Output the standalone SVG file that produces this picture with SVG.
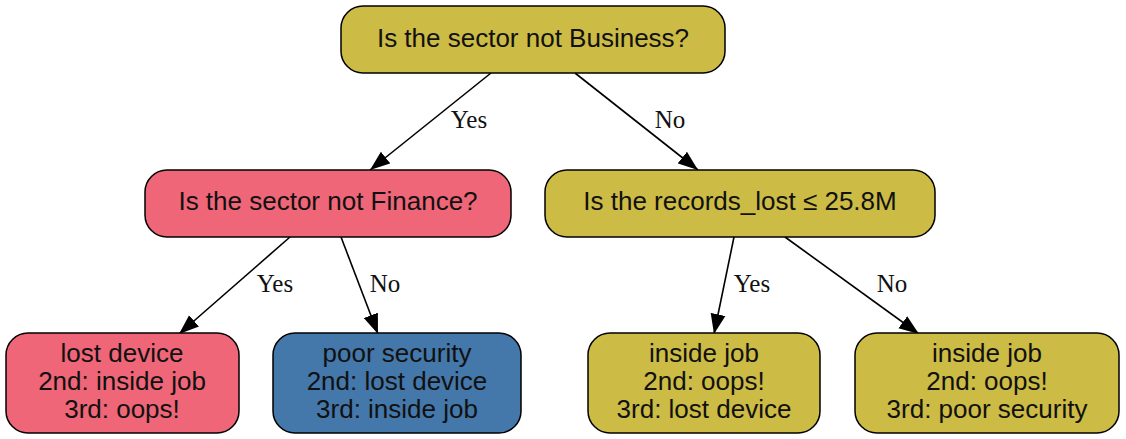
<svg xmlns="http://www.w3.org/2000/svg" width="1126" height="439" viewBox="0 0 1126 439">
<style>
.n{stroke:#000;stroke-width:1.5}
.y{fill:#ccbb44}.r{fill:#ee6677}.b{fill:#4477aa}
.t{font-family:"Liberation Sans",Arial,sans-serif;font-size:26px;fill:#111;text-anchor:middle}
.e{stroke:#000;stroke-width:1.6;fill:none;marker-end:url(#ah)}
.l{font-family:"Liberation Serif","Times New Roman",serif;font-size:25px;fill:#111;text-anchor:middle}
</style>
<defs>
<marker id="ah" markerUnits="userSpaceOnUse" markerWidth="21" markerHeight="16" refX="20" refY="8" orient="auto">
<path d="M0,0.5 L20,8 L0,15.5 Z" fill="#000"/>
</marker>
</defs>
<g id="connectors">
<line class="e" x1="491" y1="73" x2="370" y2="170"/>
<line class="e" x1="575" y1="73" x2="698" y2="170"/>
<line class="e" x1="290" y1="237" x2="179" y2="334"/>
<line class="e" x1="341" y1="237" x2="378" y2="334"/>
<line class="e" x1="734" y1="237" x2="714" y2="334"/>
<line class="e" x1="785" y1="237" x2="919" y2="334"/>
<text class="l" x="469" y="128">Yes</text>
<text class="l" x="670" y="128">No</text>
<text class="l" x="275" y="292">Yes</text>
<text class="l" x="385" y="292">No</text>
<text class="l" x="752" y="292">Yes</text>
<text class="l" x="892" y="292">No</text>
</g>
<g id="root">
<rect class="n y" x="341" y="6" width="384" height="67" rx="22"/>
<text class="t" x="533" y="47">Is the sector not Business?</text>
</g>
<g id="finance">
<rect class="n r" x="145" y="170" width="366" height="67" rx="22"/>
<text class="t" x="328" y="210">Is the sector not Finance?</text>
</g>
<g id="records">
<rect class="n y" x="545" y="170" width="390" height="67" rx="22"/>
<text class="t" x="740" y="210">Is the records_lost ≤ 25.8M</text>
</g>
<g id="leaf1">
<rect class="n r" x="6" y="333" width="233" height="100" rx="22"/>
<text class="t" x="122" y="362">lost device</text>
<text class="t" x="122" y="390">2nd: inside job</text>
<text class="t" x="122" y="418">3rd: oops!</text>
</g>
<g id="leaf2">
<rect class="n b" x="273" y="333" width="248" height="100" rx="22"/>
<text class="t" x="397" y="362">poor security</text>
<text class="t" x="397" y="390">2nd: lost device</text>
<text class="t" x="397" y="418">3rd: inside job</text>
</g>
<g id="leaf3">
<rect class="n y" x="588" y="333" width="232" height="100" rx="22"/>
<text class="t" x="704" y="362">inside job</text>
<text class="t" x="704" y="390">2nd: oops!</text>
<text class="t" x="704" y="418">3rd: lost device</text>
</g>
<g id="leaf4">
<rect class="n y" x="855" y="333" width="264" height="100" rx="22"/>
<text class="t" x="987" y="362">inside job</text>
<text class="t" x="987" y="390">2nd: oops!</text>
<text class="t" x="987" y="418">3rd: poor security</text>
</g>
</svg>
